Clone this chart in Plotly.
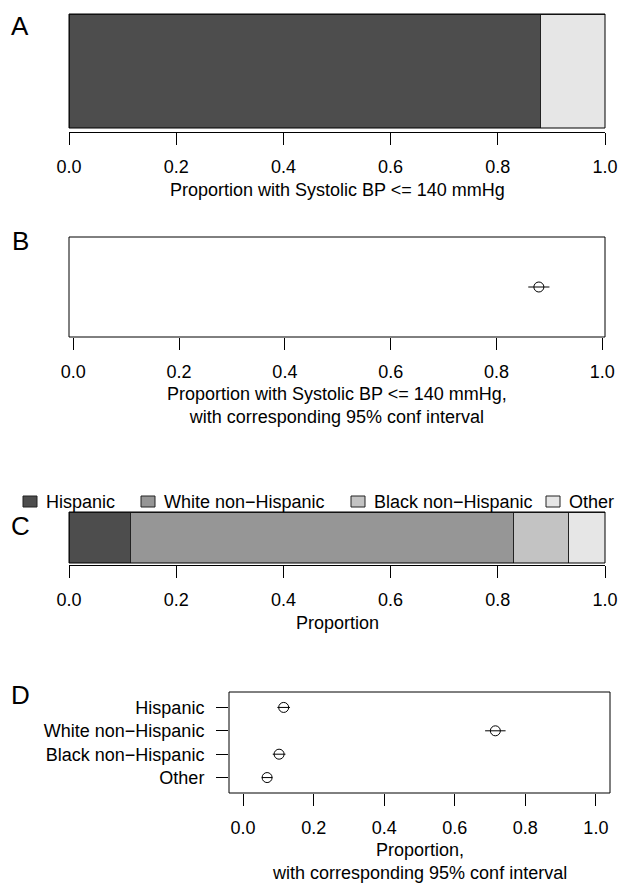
import plotly.graph_objects as go

# ---------------- data ----------------
bp_groups = ["<= 140 mmHg", "> 140 mmHg"]
bp_props = [0.88, 0.12]
bp_est = [0.88]
bp_ci_low = [0.86]
bp_ci_high = [0.90]

race_cats = ["Hispanic", "White non\u2212Hispanic", "Black non\u2212Hispanic", "Other"]
race_props = [0.115, 0.715, 0.102, 0.068]
race_ci_low = [0.097, 0.686, 0.084, 0.053]
race_ci_high = [0.133, 0.744, 0.120, 0.083]

tick_vals = [0.0, 0.2, 0.4, 0.6, 0.8, 1.0]
tick_text = ["0.0", "0.2", "0.4", "0.6", "0.8", "1.0"]

# ---------------- styles ----------------
W, H = 621, 884
FONT = "Liberation Sans"
FS = 18
bp_colors = ["#4D4D4D", "#E6E6E6"]
race_colors = ["#4D4D4D", "#969696", "#C3C3C3", "#E6E6E6"]


def px(x):
    return x / W


def py(y):
    return 1 - y / H


fig = go.Figure()

# Panel A: stacked bar
for g, v, c in zip(bp_groups, bp_props, bp_colors):
    fig.add_trace(go.Bar(x=[v], y=[0], orientation="h", width=1, name=g,
                         marker=dict(color=c, line=dict(color="#222222", width=1)),
                         xaxis="x", yaxis="y", showlegend=False))

# Panel B: point estimate with CI
fig.add_trace(go.Scatter(
    x=bp_est, y=[0], mode="markers", xaxis="x2", yaxis="y2", showlegend=False,
    marker=dict(symbol="circle-open", size=10, color="black", line=dict(width=1)),
    error_x=dict(type="data", symmetric=False,
                 array=[h - e for h, e in zip(bp_ci_high, bp_est)],
                 arrayminus=[e - l for e, l in zip(bp_est, bp_ci_low)],
                 width=0, thickness=1, color="black")))

# Panel C: stacked bar by race
for g, v, c in zip(race_cats, race_props, race_colors):
    fig.add_trace(go.Bar(x=[v], y=[0], orientation="h", width=1, name=g,
                         marker=dict(color=c, line=dict(color="#222222", width=1)),
                         xaxis="x3", yaxis="y3", showlegend=False))

# Panel D: dot plot with CI
fig.add_trace(go.Scatter(
    x=race_props, y=race_cats, mode="markers", xaxis="x4", yaxis="y4", showlegend=False,
    marker=dict(symbol="circle-open", size=10, color="black", line=dict(width=1)),
    error_x=dict(type="data", symmetric=False,
                 array=[h - e for h, e in zip(race_ci_high, race_props)],
                 arrayminus=[e - l for e, l in zip(race_props, race_ci_low)],
                 width=0, thickness=1, color="black")))

xcommon = dict(tickvals=tick_vals, ticktext=tick_text, ticks="outside", ticklen=12,
               tickcolor="black", tickwidth=1, showgrid=False, zeroline=False,
               tickfont=dict(family=FONT, size=FS, color="black"),
               ticklabelstandoff=6, fixedrange=True, automargin=False)
ycommon = dict(showgrid=False, zeroline=False, showticklabels=False, ticks="",
               showline=False, fixedrange=True)

fig.update_layout(
    width=W, height=H, margin=dict(l=0, r=0, t=0, b=0, autoexpand=False),
    paper_bgcolor="white", plot_bgcolor="white", barmode="stack", bargap=0,
    font=dict(family=FONT, size=FS, color="black"),
    xaxis=dict(domain=[px(69), px(605)], range=[0, 1], anchor="free", position=py(132),
               showline=True, linecolor="black", linewidth=1, **xcommon),
    yaxis=dict(domain=[py(128), py(14)], range=[-0.5, 0.5], anchor="x", **ycommon),
    xaxis2=dict(domain=[px(69), px(605)], range=[-0.008, 1.005], anchor="y2",
                showline=False, **xcommon),
    yaxis2=dict(domain=[py(337), py(237)], range=[-1, 1], anchor="x2", **ycommon),
    xaxis3=dict(domain=[px(69), px(605)], range=[0, 1], anchor="free", position=py(565),
                showline=True, linecolor="black", linewidth=1, **xcommon),
    yaxis3=dict(domain=[py(563), py(512)], range=[-0.5, 0.5], anchor="x3", **ycommon),
    xaxis4=dict(domain=[px(229), px(610)], range=[-0.04, 1.04], anchor="y4",
                showline=False, **xcommon),
    yaxis4=dict(domain=[py(793), py(692)], type="category", categoryarray=race_cats,
                range=[3.66, -0.66], anchor="x4", showgrid=False, zeroline=False,
                ticks="outside", ticklen=12, tickcolor="black", tickwidth=1,
                tickfont=dict(family=FONT, size=FS, color="black"),
                ticklabelstandoff=8, fixedrange=True, automargin=False),
)

# Frames around the panels
for xr, yr in [("x", "y"), ("x2", "y2"), ("x3", "y3"), ("x4", "y4")]:
    fig.add_shape(type="rect", xref=f"{xr} domain", yref=f"{yr} domain",
                  x0=0, x1=1, y0=0, y1=1, line=dict(color="black", width=1),
                  fillcolor="rgba(0,0,0,0)", layer="above")

# Axis titles
titles = [
    ("Proportion with Systolic BP <= 140 mmHg", (69 + 605) / 2, 190),
    ("Proportion with Systolic BP <= 140 mmHg,<br>with corresponding 95% conf interval", (69 + 605) / 2, 406),
    ("Proportion", (69 + 605) / 2, 623),
    ("Proportion,<br>with corresponding 95% conf interval", (229 + 610) / 2, 861),
]
for t, cx, cy in titles:
    fig.add_annotation(text=t, x=px(cx), y=py(cy), xref="paper", yref="paper",
                       showarrow=False, xanchor="center", yanchor="middle",
                       font=dict(family=FONT, size=FS, color="black"))

# Panel letters
for letter, cy in [("A", 26), ("B", 241), ("C", 526), ("D", 695)]:
    fig.add_annotation(text=letter, x=px(20), y=py(cy), xref="paper", yref="paper",
                       showarrow=False, xanchor="center", yanchor="middle",
                       font=dict(family=FONT, size=26, color="black"))

# Legend for panel C (drawn manually across the top)
legend_x = [23, 141, 351, 546]
for lx, cat, col in zip(legend_x, race_cats, race_colors):
    fig.add_shape(type="rect", xref="paper", yref="paper",
                  x0=px(lx), x1=px(lx + 14), y0=py(507), y1=py(496),
                  line=dict(color="#222222", width=1), fillcolor=col)
    fig.add_annotation(text=cat, x=px(lx + 21), y=py(502), xref="paper", yref="paper",
                       showarrow=False, xanchor="left", yanchor="middle",
                       font=dict(family=FONT, size=FS, color="black"))

fig.write_html("out.html", config={"displayModeBar": False, "staticPlot": True},
               post_script="document.body.style.margin='0';document.body.style.overflow='hidden';")
